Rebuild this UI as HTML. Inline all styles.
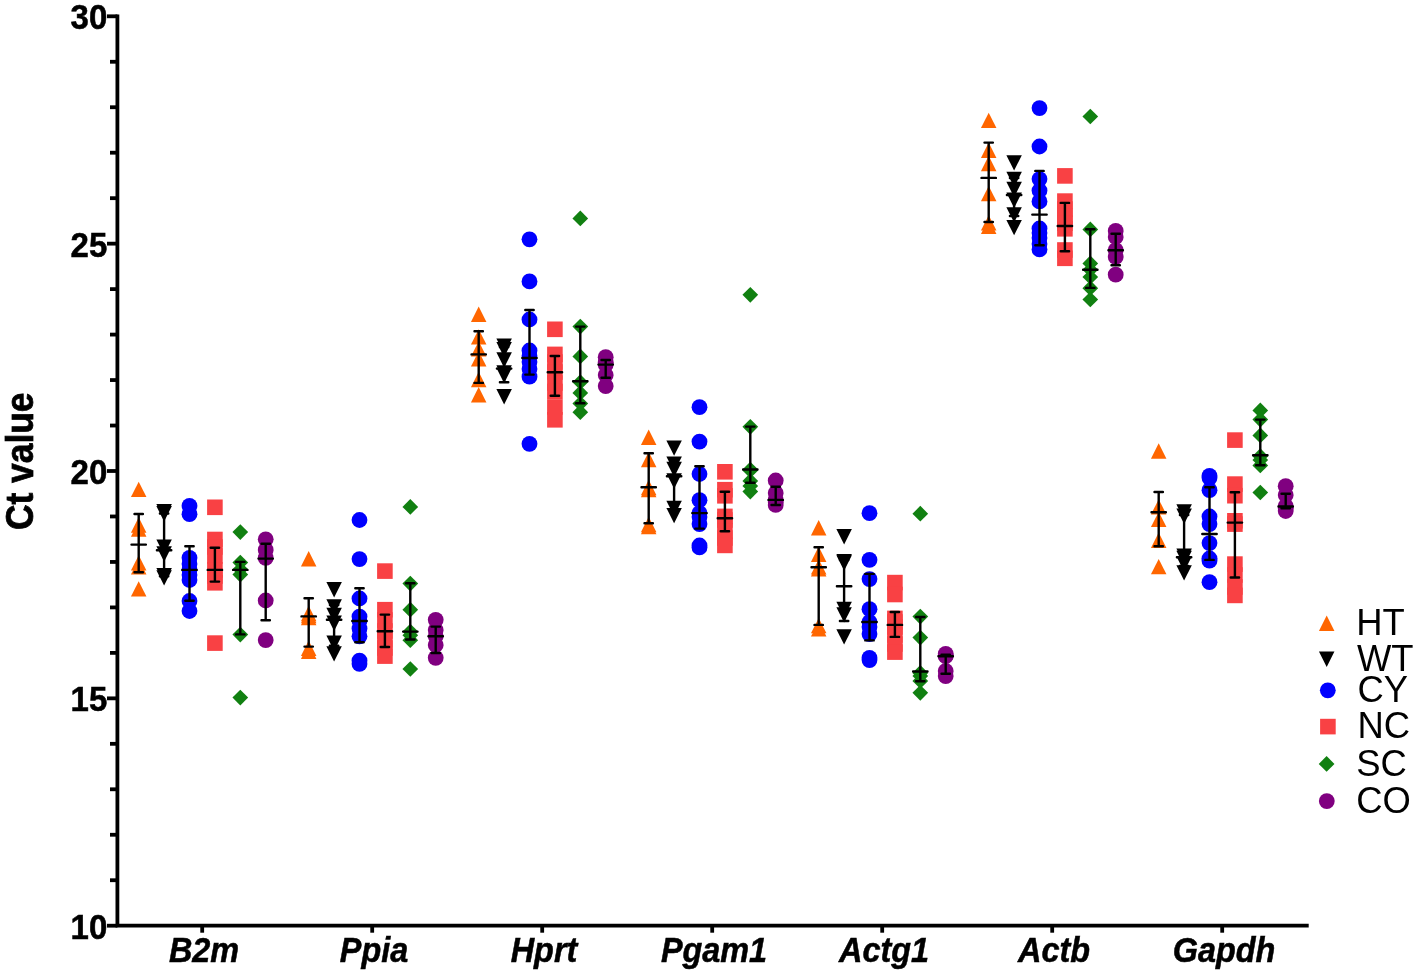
<!DOCTYPE html>
<html lang="en"><head><meta charset="utf-8"><title>Ct value plot</title>
<style>html,body{margin:0;padding:0;background:#fff}svg{display:block}text{font-family:"Liberation Sans",sans-serif;fill:#000}.yt{font-weight:bold;font-size:33px;text-anchor:end;stroke:#000;stroke-width:.5px}.xt{font-weight:bold;font-style:italic;font-size:32.4px;text-anchor:middle;stroke:#000;stroke-width:.5px}.lg{font-size:36.4px}.yl{font-weight:bold;font-size:35.4px;text-anchor:middle;stroke:#000;stroke-width:.7px}</style></head><body>
<svg width="1416" height="976" viewBox="0 0 1416 976">
<rect width="1416" height="976" fill="#fff"/>
<g stroke="#000" stroke-width="3.8" fill="none">
<path d="M117.4 14.4 V925.7 H1308.7"/>
<path d="M107 925.7 H117.4"/>
<path d="M110 880.23 H117.4"/>
<path d="M110 834.76 H117.4"/>
<path d="M110 789.29 H117.4"/>
<path d="M110 743.82 H117.4"/>
<path d="M107 698.35 H117.4"/>
<path d="M110 652.88 H117.4"/>
<path d="M110 607.41 H117.4"/>
<path d="M110 561.94 H117.4"/>
<path d="M110 516.47 H117.4"/>
<path d="M107 471 H117.4"/>
<path d="M110 425.53 H117.4"/>
<path d="M110 380.06 H117.4"/>
<path d="M110 334.59 H117.4"/>
<path d="M110 289.12 H117.4"/>
<path d="M107 243.65 H117.4"/>
<path d="M110 198.18 H117.4"/>
<path d="M110 152.71 H117.4"/>
<path d="M110 107.24 H117.4"/>
<path d="M110 61.77 H117.4"/>
<path d="M107 16.3 H117.4"/>
<path d="M202.2 925.7 V932.7"/>
<path d="M372.2 925.7 V932.7"/>
<path d="M542.2 925.7 V932.7"/>
<path d="M712.2 925.7 V932.7"/>
<path d="M882.2 925.7 V932.7"/>
<path d="M1052.2 925.7 V932.7"/>
<path d="M1222.2 925.7 V932.7"/>
</g>
<text class="yt" transform="translate(107.3 938.8) scale(1 1.04)">10</text>
<text class="yt" transform="translate(107.3 711.45) scale(1 1.04)">15</text>
<text class="yt" transform="translate(107.3 484.1) scale(1 1.04)">20</text>
<text class="yt" transform="translate(107.3 256.75) scale(1 1.04)">25</text>
<text class="yt" transform="translate(107.3 29.4) scale(1 1.04)">30</text>
<text class="xt" transform="translate(204 962.2) scale(1 1.07)">B2m</text>
<text class="xt" transform="translate(374 962.2) scale(1 1.07)">Ppia</text>
<text class="xt" transform="translate(544 962.2) scale(1 1.07)">Hprt</text>
<text class="xt" transform="translate(714 962.2) scale(1 1.07)">Pgam1</text>
<text class="xt" transform="translate(884 962.2) scale(1 1.07)">Actg1</text>
<text class="xt" transform="translate(1054 962.2) scale(1 1.07)">Actb</text>
<text class="xt" transform="translate(1224 962.2) scale(1 1.07)">Gapdh</text>
<text class="yl" transform="translate(33.0 461.3) rotate(-90) scale(1 1.11)">Ct value</text>
<g>
<polygon points="138.7,481.7 146.45,497.1 130.95,497.1" fill="#ff6600"/>
<polygon points="138.7,517.3 146.45,532.7 130.95,532.7" fill="#ff6600"/>
<polygon points="138.7,521.3 146.45,536.7 130.95,536.7" fill="#ff6600"/>
<polygon points="138.7,555.2 146.45,570.6 130.95,570.6" fill="#ff6600"/>
<polygon points="138.7,559.2 146.45,574.6 130.95,574.6" fill="#ff6600"/>
<polygon points="138.7,581.2 146.45,596.6 130.95,596.6" fill="#ff6600"/>
<path d="M138.7 514V572.3 M134.5 514H142.9 M134.5 572.3H142.9 M131.5 544.6H145.9" stroke="#000" stroke-width="2.4" stroke-linecap="round" fill="none"/>
</g>
<g>
<polygon points="156.35,504.1 171.85,504.1 164.1,519.5" fill="#000000"/>
<polygon points="156.35,506.1 171.85,506.1 164.1,521.5" fill="#000000"/>
<polygon points="156.35,539.4 171.85,539.4 164.1,554.8" fill="#000000"/>
<polygon points="156.35,546.3 171.85,546.3 164.1,561.7" fill="#000000"/>
<polygon points="156.35,568.1 171.85,568.1 164.1,583.5" fill="#000000"/>
<polygon points="156.35,570.2 171.85,570.2 164.1,585.6" fill="#000000"/>
<path d="M164.1 513.5V576.3 M159.9 513.5H168.3 M159.9 576.3H168.3 M156.9 550.2H171.3" stroke="#000" stroke-width="2.4" stroke-linecap="round" fill="none"/>
</g>
<g>
<circle cx="189.5" cy="505.8" r="7.9" fill="#0000ff"/>
<circle cx="189.5" cy="514.2" r="7.9" fill="#0000ff"/>
<circle cx="189.5" cy="557.8" r="7.9" fill="#0000ff"/>
<circle cx="189.5" cy="564" r="7.9" fill="#0000ff"/>
<circle cx="189.5" cy="569.9" r="7.9" fill="#0000ff"/>
<circle cx="189.5" cy="575" r="7.9" fill="#0000ff"/>
<circle cx="189.5" cy="580" r="7.9" fill="#0000ff"/>
<circle cx="189.5" cy="601" r="7.9" fill="#0000ff"/>
<circle cx="189.5" cy="611" r="7.9" fill="#0000ff"/>
<path d="M189.5 546.2V600.8 M185.3 546.2H193.7 M185.3 600.8H193.7 M182.3 569.9H196.7" stroke="#000" stroke-width="2.4" stroke-linecap="round" fill="none"/>
</g>
<g>
<rect x="207.1" y="499.5" width="15.6" height="15.6" fill="#f94144"/>
<rect x="207.1" y="531.7" width="15.6" height="15.6" fill="#f94144"/>
<rect x="207.1" y="539.2" width="15.6" height="15.6" fill="#f94144"/>
<rect x="207.1" y="548.2" width="15.6" height="15.6" fill="#f94144"/>
<rect x="207.1" y="562.1" width="15.6" height="15.6" fill="#f94144"/>
<rect x="207.1" y="568.2" width="15.6" height="15.6" fill="#f94144"/>
<rect x="207.1" y="575" width="15.6" height="15.6" fill="#f94144"/>
<rect x="207.1" y="635.3" width="15.6" height="15.6" fill="#f94144"/>
<path d="M214.9 547.7V581.6 M210.7 547.7H219.1 M210.7 581.6H219.1 M207.7 569.9H222.1" stroke="#000" stroke-width="2.4" stroke-linecap="round" fill="none"/>
</g>
<g>
<polygon points="240.3,524.25 248.15,532.1 240.3,539.95 232.45,532.1" fill="#118011"/>
<polygon points="240.3,554.75 248.15,562.6 240.3,570.45 232.45,562.6" fill="#118011"/>
<polygon points="240.3,561.45 248.15,569.3 240.3,577.15 232.45,569.3" fill="#118011"/>
<polygon points="240.3,566.75 248.15,574.6 240.3,582.45 232.45,574.6" fill="#118011"/>
<polygon points="240.3,626.75 248.15,634.6 240.3,642.45 232.45,634.6" fill="#118011"/>
<polygon points="240.3,689.75 248.15,697.6 240.3,705.45 232.45,697.6" fill="#118011"/>
<path d="M240.3 561.9V634.4 M236.1 561.9H244.5 M236.1 634.4H244.5 M233.1 569.9H247.5" stroke="#000" stroke-width="2.4" stroke-linecap="round" fill="none"/>
</g>
<g>
<circle cx="265.7" cy="539.3" r="7.9" fill="#800080"/>
<circle cx="265.7" cy="549.9" r="7.9" fill="#800080"/>
<circle cx="265.7" cy="557.9" r="7.9" fill="#800080"/>
<circle cx="265.7" cy="600.5" r="7.9" fill="#800080"/>
<circle cx="265.7" cy="640.1" r="7.9" fill="#800080"/>
<path d="M265.7 543.7V620.2 M261.5 543.7H269.9 M261.5 620.2H269.9 M258.5 558.6H272.9" stroke="#000" stroke-width="2.4" stroke-linecap="round" fill="none"/>
</g>
<g>
<polygon points="308.7,551 316.45,566.4 300.95,566.4" fill="#ff6600"/>
<polygon points="308.7,605.8 316.45,621.2 300.95,621.2" fill="#ff6600"/>
<polygon points="308.7,607.8 316.45,623.2 300.95,623.2" fill="#ff6600"/>
<polygon points="308.7,609.8 316.45,625.2 300.95,625.2" fill="#ff6600"/>
<polygon points="308.7,640.5 316.45,655.9 300.95,655.9" fill="#ff6600"/>
<polygon points="308.7,643.6 316.45,659 300.95,659" fill="#ff6600"/>
<path d="M308.7 598.2V646.6 M304.5 598.2H312.9 M304.5 646.6H312.9 M301.5 616.4H315.9" stroke="#000" stroke-width="2.4" stroke-linecap="round" fill="none"/>
</g>
<g>
<polygon points="326.35,582 341.85,582 334.1,597.4" fill="#000000"/>
<polygon points="326.35,599.3 341.85,599.3 334.1,614.7" fill="#000000"/>
<polygon points="326.35,607.8 341.85,607.8 334.1,623.2" fill="#000000"/>
<polygon points="326.35,615.5 341.85,615.5 334.1,630.9" fill="#000000"/>
<polygon points="326.35,635.5 341.85,635.5 334.1,650.9" fill="#000000"/>
<polygon points="326.35,646.2 341.85,646.2 334.1,661.6" fill="#000000"/>
<path d="M334.1 605V645.7 M329.9 605H338.3 M329.9 645.7H338.3 M326.9 619.8H341.3" stroke="#000" stroke-width="2.4" stroke-linecap="round" fill="none"/>
</g>
<g>
<circle cx="359.5" cy="520" r="7.9" fill="#0000ff"/>
<circle cx="359.5" cy="559.1" r="7.9" fill="#0000ff"/>
<circle cx="359.5" cy="598.5" r="7.9" fill="#0000ff"/>
<circle cx="359.5" cy="616.6" r="7.9" fill="#0000ff"/>
<circle cx="359.5" cy="621" r="7.9" fill="#0000ff"/>
<circle cx="359.5" cy="628.6" r="7.9" fill="#0000ff"/>
<circle cx="359.5" cy="636.3" r="7.9" fill="#0000ff"/>
<circle cx="359.5" cy="660.6" r="7.9" fill="#0000ff"/>
<circle cx="359.5" cy="663.9" r="7.9" fill="#0000ff"/>
<path d="M359.5 588.3V642.3 M355.3 588.3H363.7 M355.3 642.3H363.7 M352.3 621H366.7" stroke="#000" stroke-width="2.4" stroke-linecap="round" fill="none"/>
</g>
<g>
<rect x="377.1" y="563.3" width="15.6" height="15.6" fill="#f94144"/>
<rect x="377.1" y="601.9" width="15.6" height="15.6" fill="#f94144"/>
<rect x="377.1" y="612.2" width="15.6" height="15.6" fill="#f94144"/>
<rect x="377.1" y="623.2" width="15.6" height="15.6" fill="#f94144"/>
<rect x="377.1" y="632.2" width="15.6" height="15.6" fill="#f94144"/>
<rect x="377.1" y="640.2" width="15.6" height="15.6" fill="#f94144"/>
<rect x="377.1" y="648.3" width="15.6" height="15.6" fill="#f94144"/>
<path d="M384.9 614.6V647 M380.7 614.6H389.1 M380.7 647H389.1 M377.7 631.3H392.1" stroke="#000" stroke-width="2.4" stroke-linecap="round" fill="none"/>
</g>
<g>
<polygon points="410.3,499.05 418.15,506.9 410.3,514.75 402.45,506.9" fill="#118011"/>
<polygon points="410.3,575.75 418.15,583.6 410.3,591.45 402.45,583.6" fill="#118011"/>
<polygon points="410.3,601.85 418.15,609.7 410.3,617.55 402.45,609.7" fill="#118011"/>
<polygon points="410.3,623.75 418.15,631.6 410.3,639.45 402.45,631.6" fill="#118011"/>
<polygon points="410.3,627.45 418.15,635.3 410.3,643.15 402.45,635.3" fill="#118011"/>
<polygon points="410.3,632.35 418.15,640.2 410.3,648.05 402.45,640.2" fill="#118011"/>
<polygon points="410.3,661.15 418.15,669 410.3,676.85 402.45,669" fill="#118011"/>
<path d="M410.3 583.3V639.5 M406.1 583.3H414.5 M406.1 639.5H414.5 M403.1 631.6H417.5" stroke="#000" stroke-width="2.4" stroke-linecap="round" fill="none"/>
</g>
<g>
<circle cx="435.7" cy="619.8" r="7.9" fill="#800080"/>
<circle cx="435.7" cy="630" r="7.9" fill="#800080"/>
<circle cx="435.7" cy="636.3" r="7.9" fill="#800080"/>
<circle cx="435.7" cy="645" r="7.9" fill="#800080"/>
<circle cx="435.7" cy="657.8" r="7.9" fill="#800080"/>
<path d="M435.7 626.6V653 M431.5 626.6H439.9 M431.5 653H439.9 M428.5 636.3H442.9" stroke="#000" stroke-width="2.4" stroke-linecap="round" fill="none"/>
</g>
<g>
<polygon points="478.7,306.6 486.45,322 470.95,322" fill="#ff6600"/>
<polygon points="478.7,329.2 486.45,344.6 470.95,344.6" fill="#ff6600"/>
<polygon points="478.7,341.2 486.45,356.6 470.95,356.6" fill="#ff6600"/>
<polygon points="478.7,351.2 486.45,366.6 470.95,366.6" fill="#ff6600"/>
<polygon points="478.7,371.8 486.45,387.2 470.95,387.2" fill="#ff6600"/>
<polygon points="478.7,387 486.45,402.4 470.95,402.4" fill="#ff6600"/>
<path d="M478.7 331.3V382.9 M474.5 331.3H482.9 M474.5 382.9H482.9 M471.5 354.4H485.9" stroke="#000" stroke-width="2.4" stroke-linecap="round" fill="none"/>
</g>
<g>
<polygon points="496.35,338.5 511.85,338.5 504.1,353.9" fill="#000000"/>
<polygon points="496.35,341.9 511.85,341.9 504.1,357.3" fill="#000000"/>
<polygon points="496.35,352.3 511.85,352.3 504.1,367.7" fill="#000000"/>
<polygon points="496.35,365.2 511.85,365.2 504.1,380.6" fill="#000000"/>
<polygon points="496.35,367.8 511.85,367.8 504.1,383.2" fill="#000000"/>
<polygon points="496.35,389 511.85,389 504.1,404.4" fill="#000000"/>
<path d="M504.1 347V382.3 M499.9 347H508.3 M499.9 382.3H508.3 M496.9 368.6H511.3" stroke="#000" stroke-width="2.4" stroke-linecap="round" fill="none"/>
</g>
<g>
<circle cx="529.5" cy="239.3" r="7.9" fill="#0000ff"/>
<circle cx="529.5" cy="281.4" r="7.9" fill="#0000ff"/>
<circle cx="529.5" cy="319.5" r="7.9" fill="#0000ff"/>
<circle cx="529.5" cy="350.5" r="7.9" fill="#0000ff"/>
<circle cx="529.5" cy="356" r="7.9" fill="#0000ff"/>
<circle cx="529.5" cy="362" r="7.9" fill="#0000ff"/>
<circle cx="529.5" cy="369" r="7.9" fill="#0000ff"/>
<circle cx="529.5" cy="376.7" r="7.9" fill="#0000ff"/>
<circle cx="529.5" cy="443.8" r="7.9" fill="#0000ff"/>
<path d="M529.5 310V374.6 M525.3 310H533.7 M525.3 374.6H533.7 M522.3 358H536.7" stroke="#000" stroke-width="2.4" stroke-linecap="round" fill="none"/>
</g>
<g>
<rect x="547.1" y="321.5" width="15.6" height="15.6" fill="#f94144"/>
<rect x="547.1" y="346.6" width="15.6" height="15.6" fill="#f94144"/>
<rect x="547.1" y="354.2" width="15.6" height="15.6" fill="#f94144"/>
<rect x="547.1" y="364.2" width="15.6" height="15.6" fill="#f94144"/>
<rect x="547.1" y="375.2" width="15.6" height="15.6" fill="#f94144"/>
<rect x="547.1" y="383.7" width="15.6" height="15.6" fill="#f94144"/>
<rect x="547.1" y="399.2" width="15.6" height="15.6" fill="#f94144"/>
<rect x="547.1" y="412" width="15.6" height="15.6" fill="#f94144"/>
<path d="M554.9 356V395.7 M550.7 356H559.1 M550.7 395.7H559.1 M547.7 372.3H562.1" stroke="#000" stroke-width="2.4" stroke-linecap="round" fill="none"/>
</g>
<g>
<polygon points="580.3,210.55 588.15,218.4 580.3,226.25 572.45,218.4" fill="#118011"/>
<polygon points="580.3,318.75 588.15,326.6 580.3,334.45 572.45,326.6" fill="#118011"/>
<polygon points="580.3,348.55 588.15,356.4 580.3,364.25 572.45,356.4" fill="#118011"/>
<polygon points="580.3,374.35 588.15,382.2 580.3,390.05 572.45,382.2" fill="#118011"/>
<polygon points="580.3,385.05 588.15,392.9 580.3,400.75 572.45,392.9" fill="#118011"/>
<polygon points="580.3,395.65 588.15,403.5 580.3,411.35 572.45,403.5" fill="#118011"/>
<polygon points="580.3,404.35 588.15,412.2 580.3,420.05 572.45,412.2" fill="#118011"/>
<path d="M580.3 326.6V403.2 M576.1 326.6H584.5 M576.1 403.2H584.5 M573.1 381.3H587.5" stroke="#000" stroke-width="2.4" stroke-linecap="round" fill="none"/>
</g>
<g>
<circle cx="605.7" cy="357.2" r="7.9" fill="#800080"/>
<circle cx="605.7" cy="362.6" r="7.9" fill="#800080"/>
<circle cx="605.7" cy="364.6" r="7.9" fill="#800080"/>
<circle cx="605.7" cy="375" r="7.9" fill="#800080"/>
<circle cx="605.7" cy="386.1" r="7.9" fill="#800080"/>
<path d="M605.7 360V377.7 M601.5 360H609.9 M601.5 377.7H609.9 M598.5 364.6H612.9" stroke="#000" stroke-width="2.4" stroke-linecap="round" fill="none"/>
</g>
<g>
<polygon points="648.7,429.5 656.45,444.9 640.95,444.9" fill="#ff6600"/>
<polygon points="648.7,451.8 656.45,467.2 640.95,467.2" fill="#ff6600"/>
<polygon points="648.7,479.8 656.45,495.2 640.95,495.2" fill="#ff6600"/>
<polygon points="648.7,481.8 656.45,497.2 640.95,497.2" fill="#ff6600"/>
<polygon points="648.7,516.8 656.45,532.2 640.95,532.2" fill="#ff6600"/>
<polygon points="648.7,518.8 656.45,534.2 640.95,534.2" fill="#ff6600"/>
<path d="M648.7 453.3V523.3 M644.5 453.3H652.9 M644.5 523.3H652.9 M641.5 487.3H655.9" stroke="#000" stroke-width="2.4" stroke-linecap="round" fill="none"/>
</g>
<g>
<polygon points="666.35,440.4 681.85,440.4 674.1,455.8" fill="#000000"/>
<polygon points="666.35,456.5 681.85,456.5 674.1,471.9" fill="#000000"/>
<polygon points="666.35,461.8 681.85,461.8 674.1,477.2" fill="#000000"/>
<polygon points="666.35,473.3 681.85,473.3 674.1,488.7" fill="#000000"/>
<polygon points="666.35,500.7 681.85,500.7 674.1,516.1" fill="#000000"/>
<polygon points="666.35,507.9 681.85,507.9 674.1,523.3" fill="#000000"/>
<path d="M674.1 463V510 M669.9 463H678.3 M669.9 510H678.3 M666.9 476.3H681.3" stroke="#000" stroke-width="2.4" stroke-linecap="round" fill="none"/>
</g>
<g>
<circle cx="699.5" cy="407.2" r="7.9" fill="#0000ff"/>
<circle cx="699.5" cy="441.6" r="7.9" fill="#0000ff"/>
<circle cx="699.5" cy="474" r="7.9" fill="#0000ff"/>
<circle cx="699.5" cy="500.2" r="7.9" fill="#0000ff"/>
<circle cx="699.5" cy="513" r="7.9" fill="#0000ff"/>
<circle cx="699.5" cy="517" r="7.9" fill="#0000ff"/>
<circle cx="699.5" cy="524.1" r="7.9" fill="#0000ff"/>
<circle cx="699.5" cy="545.5" r="7.9" fill="#0000ff"/>
<circle cx="699.5" cy="547.4" r="7.9" fill="#0000ff"/>
<path d="M699.5 466.2V528.6 M695.3 466.2H703.7 M695.3 528.6H703.7 M692.3 513.1H706.7" stroke="#000" stroke-width="2.4" stroke-linecap="round" fill="none"/>
</g>
<g>
<rect x="717.1" y="464" width="15.6" height="15.6" fill="#f94144"/>
<rect x="717.1" y="481.9" width="15.6" height="15.6" fill="#f94144"/>
<rect x="717.1" y="488" width="15.6" height="15.6" fill="#f94144"/>
<rect x="717.1" y="508.6" width="15.6" height="15.6" fill="#f94144"/>
<rect x="717.1" y="512.2" width="15.6" height="15.6" fill="#f94144"/>
<rect x="717.1" y="523.2" width="15.6" height="15.6" fill="#f94144"/>
<rect x="717.1" y="530.2" width="15.6" height="15.6" fill="#f94144"/>
<rect x="717.1" y="537.6" width="15.6" height="15.6" fill="#f94144"/>
<path d="M724.9 491.7V531.3 M720.7 491.7H729.1 M720.7 531.3H729.1 M717.7 518.3H732.1" stroke="#000" stroke-width="2.4" stroke-linecap="round" fill="none"/>
</g>
<g>
<polygon points="750.3,286.95 758.15,294.8 750.3,302.65 742.45,294.8" fill="#118011"/>
<polygon points="750.3,418.95 758.15,426.8 750.3,434.65 742.45,426.8" fill="#118011"/>
<polygon points="750.3,461.65 758.15,469.5 750.3,477.35 742.45,469.5" fill="#118011"/>
<polygon points="750.3,462.65 758.15,470.5 750.3,478.35 742.45,470.5" fill="#118011"/>
<polygon points="750.3,473.05 758.15,480.9 750.3,488.75 742.45,480.9" fill="#118011"/>
<polygon points="750.3,478.15 758.15,486 750.3,493.85 742.45,486" fill="#118011"/>
<polygon points="750.3,483.75 758.15,491.6 750.3,499.45 742.45,491.6" fill="#118011"/>
<path d="M750.3 426.6V482.7 M746.1 426.6H754.5 M746.1 482.7H754.5 M743.1 469.5H757.5" stroke="#000" stroke-width="2.4" stroke-linecap="round" fill="none"/>
</g>
<g>
<circle cx="775.7" cy="480.5" r="7.9" fill="#800080"/>
<circle cx="775.7" cy="493" r="7.9" fill="#800080"/>
<circle cx="775.7" cy="499.9" r="7.9" fill="#800080"/>
<circle cx="775.7" cy="502" r="7.9" fill="#800080"/>
<circle cx="775.7" cy="504.9" r="7.9" fill="#800080"/>
<path d="M775.7 486.8V505 M771.5 486.8H779.9 M771.5 505H779.9 M768.5 499.9H782.9" stroke="#000" stroke-width="2.4" stroke-linecap="round" fill="none"/>
</g>
<g>
<polygon points="818.7,520 826.45,535.4 810.95,535.4" fill="#ff6600"/>
<polygon points="818.7,546.5 826.45,561.9 810.95,561.9" fill="#ff6600"/>
<polygon points="818.7,559.2 826.45,574.6 810.95,574.6" fill="#ff6600"/>
<polygon points="818.7,561.2 826.45,576.6 810.95,576.6" fill="#ff6600"/>
<polygon points="818.7,617.9 826.45,633.3 810.95,633.3" fill="#ff6600"/>
<polygon points="818.7,621.2 826.45,636.6 810.95,636.6" fill="#ff6600"/>
<path d="M818.7 547.3V624.9 M814.5 547.3H822.9 M814.5 624.9H822.9 M811.5 567.3H825.9" stroke="#000" stroke-width="2.4" stroke-linecap="round" fill="none"/>
</g>
<g>
<polygon points="836.35,529.1 851.85,529.1 844.1,544.5" fill="#000000"/>
<polygon points="836.35,554 851.85,554 844.1,569.4" fill="#000000"/>
<polygon points="836.35,555.3 851.85,555.3 844.1,570.7" fill="#000000"/>
<polygon points="836.35,601.8 851.85,601.8 844.1,617.2" fill="#000000"/>
<polygon points="836.35,607.2 851.85,607.2 844.1,622.6" fill="#000000"/>
<polygon points="836.35,629.2 851.85,629.2 844.1,644.6" fill="#000000"/>
<path d="M844.1 560V621 M839.9 560H848.3 M839.9 621H848.3 M836.9 586.3H851.3" stroke="#000" stroke-width="2.4" stroke-linecap="round" fill="none"/>
</g>
<g>
<circle cx="869.5" cy="513.2" r="7.9" fill="#0000ff"/>
<circle cx="869.5" cy="559.8" r="7.9" fill="#0000ff"/>
<circle cx="869.5" cy="579.1" r="7.9" fill="#0000ff"/>
<circle cx="869.5" cy="609.2" r="7.9" fill="#0000ff"/>
<circle cx="869.5" cy="622" r="7.9" fill="#0000ff"/>
<circle cx="869.5" cy="627" r="7.9" fill="#0000ff"/>
<circle cx="869.5" cy="634.1" r="7.9" fill="#0000ff"/>
<circle cx="869.5" cy="657.8" r="7.9" fill="#0000ff"/>
<circle cx="869.5" cy="660.1" r="7.9" fill="#0000ff"/>
<path d="M869.5 573.9V640.4 M865.3 573.9H873.7 M865.3 640.4H873.7 M862.3 622H876.7" stroke="#000" stroke-width="2.4" stroke-linecap="round" fill="none"/>
</g>
<g>
<rect x="887.1" y="574.8" width="15.6" height="15.6" fill="#f94144"/>
<rect x="887.1" y="586.7" width="15.6" height="15.6" fill="#f94144"/>
<rect x="887.1" y="610.6" width="15.6" height="15.6" fill="#f94144"/>
<rect x="887.1" y="614.2" width="15.6" height="15.6" fill="#f94144"/>
<rect x="887.1" y="619.2" width="15.6" height="15.6" fill="#f94144"/>
<rect x="887.1" y="627.2" width="15.6" height="15.6" fill="#f94144"/>
<rect x="887.1" y="636.2" width="15.6" height="15.6" fill="#f94144"/>
<rect x="887.1" y="644.3" width="15.6" height="15.6" fill="#f94144"/>
<path d="M894.9 612V636.9 M890.7 612H899.1 M890.7 636.9H899.1 M887.7 624.9H902.1" stroke="#000" stroke-width="2.4" stroke-linecap="round" fill="none"/>
</g>
<g>
<polygon points="920.3,505.85 928.15,513.7 920.3,521.55 912.45,513.7" fill="#118011"/>
<polygon points="920.3,608.75 928.15,616.6 920.3,624.45 912.45,616.6" fill="#118011"/>
<polygon points="920.3,629.75 928.15,637.6 920.3,645.45 912.45,637.6" fill="#118011"/>
<polygon points="920.3,665.05 928.15,672.9 920.3,680.75 912.45,672.9" fill="#118011"/>
<polygon points="920.3,668.15 928.15,676 920.3,683.85 912.45,676" fill="#118011"/>
<polygon points="920.3,673.15 928.15,681 920.3,688.85 912.45,681" fill="#118011"/>
<polygon points="920.3,684.95 928.15,692.8 920.3,700.65 912.45,692.8" fill="#118011"/>
<path d="M920.3 617V681.3 M916.1 617H924.5 M916.1 681.3H924.5 M913.1 671.5H927.5" stroke="#000" stroke-width="2.4" stroke-linecap="round" fill="none"/>
</g>
<g>
<circle cx="945.7" cy="653.8" r="7.9" fill="#800080"/>
<circle cx="945.7" cy="655.4" r="7.9" fill="#800080"/>
<circle cx="945.7" cy="656.2" r="7.9" fill="#800080"/>
<circle cx="945.7" cy="671" r="7.9" fill="#800080"/>
<circle cx="945.7" cy="676.1" r="7.9" fill="#800080"/>
<path d="M945.7 654.6V673.7 M941.5 654.6H949.9 M941.5 673.7H949.9 M938.5 656.2H952.9" stroke="#000" stroke-width="2.4" stroke-linecap="round" fill="none"/>
</g>
<g>
<polygon points="988.7,112.7 996.45,128.1 980.95,128.1" fill="#ff6600"/>
<polygon points="988.7,142.5 996.45,157.9 980.95,157.9" fill="#ff6600"/>
<polygon points="988.7,155.8 996.45,171.2 980.95,171.2" fill="#ff6600"/>
<polygon points="988.7,185.9 996.45,201.3 980.95,201.3" fill="#ff6600"/>
<polygon points="988.7,215.2 996.45,230.6 980.95,230.6" fill="#ff6600"/>
<polygon points="988.7,218.5 996.45,233.9 980.95,233.9" fill="#ff6600"/>
<path d="M988.7 142.6V222 M984.5 142.6H992.9 M984.5 222H992.9 M981.5 177.9H995.9" stroke="#000" stroke-width="2.4" stroke-linecap="round" fill="none"/>
</g>
<g>
<polygon points="1006.35,155.2 1021.85,155.2 1014.1,170.6" fill="#000000"/>
<polygon points="1006.35,171.8 1021.85,171.8 1014.1,187.2" fill="#000000"/>
<polygon points="1006.35,181.8 1021.85,181.8 1014.1,197.2" fill="#000000"/>
<polygon points="1006.35,192.6 1021.85,192.6 1014.1,208" fill="#000000"/>
<polygon points="1006.35,207.2 1021.85,207.2 1014.1,222.6" fill="#000000"/>
<polygon points="1006.35,219.9 1021.85,219.9 1014.1,235.3" fill="#000000"/>
<path d="M1014.1 178V216 M1009.9 178H1018.3 M1009.9 216H1018.3 M1006.9 195H1021.3" stroke="#000" stroke-width="2.4" stroke-linecap="round" fill="none"/>
</g>
<g>
<circle cx="1039.5" cy="108.1" r="7.9" fill="#0000ff"/>
<circle cx="1039.5" cy="146.5" r="7.9" fill="#0000ff"/>
<circle cx="1039.5" cy="179.1" r="7.9" fill="#0000ff"/>
<circle cx="1039.5" cy="190.5" r="7.9" fill="#0000ff"/>
<circle cx="1039.5" cy="201.4" r="7.9" fill="#0000ff"/>
<circle cx="1039.5" cy="228.5" r="7.9" fill="#0000ff"/>
<circle cx="1039.5" cy="233" r="7.9" fill="#0000ff"/>
<circle cx="1039.5" cy="238" r="7.9" fill="#0000ff"/>
<circle cx="1039.5" cy="244" r="7.9" fill="#0000ff"/>
<circle cx="1039.5" cy="249.4" r="7.9" fill="#0000ff"/>
<path d="M1039.5 170.9V245.3 M1035.3 170.9H1043.7 M1035.3 245.3H1043.7 M1032.3 214.6H1046.7" stroke="#000" stroke-width="2.4" stroke-linecap="round" fill="none"/>
</g>
<g>
<rect x="1057.1" y="168.1" width="15.6" height="15.6" fill="#f94144"/>
<rect x="1057.1" y="193.3" width="15.6" height="15.6" fill="#f94144"/>
<rect x="1057.1" y="201.2" width="15.6" height="15.6" fill="#f94144"/>
<rect x="1057.1" y="208.2" width="15.6" height="15.6" fill="#f94144"/>
<rect x="1057.1" y="215.4" width="15.6" height="15.6" fill="#f94144"/>
<rect x="1057.1" y="221" width="15.6" height="15.6" fill="#f94144"/>
<rect x="1057.1" y="242.2" width="15.6" height="15.6" fill="#f94144"/>
<rect x="1057.1" y="250.5" width="15.6" height="15.6" fill="#f94144"/>
<path d="M1064.9 202.9V251.3 M1060.7 202.9H1069.1 M1060.7 251.3H1069.1 M1057.7 226H1072.1" stroke="#000" stroke-width="2.4" stroke-linecap="round" fill="none"/>
</g>
<g>
<polygon points="1090.3,108.65 1098.15,116.5 1090.3,124.35 1082.45,116.5" fill="#118011"/>
<polygon points="1090.3,221.55 1098.15,229.4 1090.3,237.25 1082.45,229.4" fill="#118011"/>
<polygon points="1090.3,255.55 1098.15,263.4 1090.3,271.25 1082.45,263.4" fill="#118011"/>
<polygon points="1090.3,261.85 1098.15,269.7 1090.3,277.55 1082.45,269.7" fill="#118011"/>
<polygon points="1090.3,269.15 1098.15,277 1090.3,284.85 1082.45,277" fill="#118011"/>
<polygon points="1090.3,280.35 1098.15,288.2 1090.3,296.05 1082.45,288.2" fill="#118011"/>
<polygon points="1090.3,291.65 1098.15,299.5 1090.3,307.35 1082.45,299.5" fill="#118011"/>
<path d="M1090.3 229.3V287.9 M1086.1 229.3H1094.5 M1086.1 287.9H1094.5 M1083.1 269.7H1097.5" stroke="#000" stroke-width="2.4" stroke-linecap="round" fill="none"/>
</g>
<g>
<circle cx="1115.7" cy="230.9" r="7.9" fill="#800080"/>
<circle cx="1115.7" cy="237" r="7.9" fill="#800080"/>
<circle cx="1115.7" cy="250.2" r="7.9" fill="#800080"/>
<circle cx="1115.7" cy="257" r="7.9" fill="#800080"/>
<circle cx="1115.7" cy="274.7" r="7.9" fill="#800080"/>
<path d="M1115.7 233.7V265.3 M1111.5 233.7H1119.9 M1111.5 265.3H1119.9 M1108.5 250.2H1122.9" stroke="#000" stroke-width="2.4" stroke-linecap="round" fill="none"/>
</g>
<g>
<polygon points="1158.7,443.3 1166.45,458.7 1150.95,458.7" fill="#ff6600"/>
<polygon points="1158.7,499.2 1166.45,514.6 1150.95,514.6" fill="#ff6600"/>
<polygon points="1158.7,511.7 1166.45,527.1 1150.95,527.1" fill="#ff6600"/>
<polygon points="1158.7,532.5 1166.45,547.9 1150.95,547.9" fill="#ff6600"/>
<polygon points="1158.7,558.9 1166.45,574.3 1150.95,574.3" fill="#ff6600"/>
<path d="M1158.7 492V546.2 M1154.5 492H1162.9 M1154.5 546.2H1162.9 M1151.5 512.2H1165.9" stroke="#000" stroke-width="2.4" stroke-linecap="round" fill="none"/>
</g>
<g>
<polygon points="1176.35,504.3 1191.85,504.3 1184.1,519.7" fill="#000000"/>
<polygon points="1176.35,508.5 1191.85,508.5 1184.1,523.9" fill="#000000"/>
<polygon points="1176.35,548.5 1191.85,548.5 1184.1,563.9" fill="#000000"/>
<polygon points="1176.35,550.7 1191.85,550.7 1184.1,566.1" fill="#000000"/>
<polygon points="1176.35,556.3 1191.85,556.3 1184.1,571.7" fill="#000000"/>
<polygon points="1176.35,565.2 1191.85,565.2 1184.1,580.6" fill="#000000"/>
<path d="M1184.1 515V566 M1179.9 515H1188.3 M1179.9 566H1188.3 M1176.9 557.3H1191.3" stroke="#000" stroke-width="2.4" stroke-linecap="round" fill="none"/>
</g>
<g>
<circle cx="1209.5" cy="475.8" r="7.9" fill="#0000ff"/>
<circle cx="1209.5" cy="477.8" r="7.9" fill="#0000ff"/>
<circle cx="1209.5" cy="490.2" r="7.9" fill="#0000ff"/>
<circle cx="1209.5" cy="516.5" r="7.9" fill="#0000ff"/>
<circle cx="1209.5" cy="524.1" r="7.9" fill="#0000ff"/>
<circle cx="1209.5" cy="543.1" r="7.9" fill="#0000ff"/>
<circle cx="1209.5" cy="558.5" r="7.9" fill="#0000ff"/>
<circle cx="1209.5" cy="560.7" r="7.9" fill="#0000ff"/>
<circle cx="1209.5" cy="582.2" r="7.9" fill="#0000ff"/>
<path d="M1209.5 487.3V559.9 M1205.3 487.3H1213.7 M1205.3 559.9H1213.7 M1202.3 534H1216.7" stroke="#000" stroke-width="2.4" stroke-linecap="round" fill="none"/>
</g>
<g>
<rect x="1227.1" y="432.3" width="15.6" height="15.6" fill="#f94144"/>
<rect x="1227.1" y="476.3" width="15.6" height="15.6" fill="#f94144"/>
<rect x="1227.1" y="487.9" width="15.6" height="15.6" fill="#f94144"/>
<rect x="1227.1" y="513" width="15.6" height="15.6" fill="#f94144"/>
<rect x="1227.1" y="516.3" width="15.6" height="15.6" fill="#f94144"/>
<rect x="1227.1" y="556.3" width="15.6" height="15.6" fill="#f94144"/>
<rect x="1227.1" y="567.2" width="15.6" height="15.6" fill="#f94144"/>
<rect x="1227.1" y="579.2" width="15.6" height="15.6" fill="#f94144"/>
<rect x="1227.1" y="587.6" width="15.6" height="15.6" fill="#f94144"/>
<path d="M1234.9 492.3V577.5 M1230.7 492.3H1239.1 M1230.7 577.5H1239.1 M1227.7 522.6H1242.1" stroke="#000" stroke-width="2.4" stroke-linecap="round" fill="none"/>
</g>
<g>
<polygon points="1260.3,402.55 1268.15,410.4 1260.3,418.25 1252.45,410.4" fill="#118011"/>
<polygon points="1260.3,411.75 1268.15,419.6 1260.3,427.45 1252.45,419.6" fill="#118011"/>
<polygon points="1260.3,427.55 1268.15,435.4 1260.3,443.25 1252.45,435.4" fill="#118011"/>
<polygon points="1260.3,448.35 1268.15,456.2 1260.3,464.05 1252.45,456.2" fill="#118011"/>
<polygon points="1260.3,452.15 1268.15,460 1260.3,467.85 1252.45,460" fill="#118011"/>
<polygon points="1260.3,457.55 1268.15,465.4 1260.3,473.25 1252.45,465.4" fill="#118011"/>
<polygon points="1260.3,484.65 1268.15,492.5 1260.3,500.35 1252.45,492.5" fill="#118011"/>
<path d="M1260.3 419.6V465.3 M1256.1 419.6H1264.5 M1256.1 465.3H1264.5 M1253.1 455.3H1267.5" stroke="#000" stroke-width="2.4" stroke-linecap="round" fill="none"/>
</g>
<g>
<circle cx="1285.7" cy="486.2" r="7.9" fill="#800080"/>
<circle cx="1285.7" cy="495" r="7.9" fill="#800080"/>
<circle cx="1285.7" cy="506" r="7.9" fill="#800080"/>
<circle cx="1285.7" cy="508" r="7.9" fill="#800080"/>
<circle cx="1285.7" cy="511" r="7.9" fill="#800080"/>
<path d="M1285.7 493.8V508.3 M1281.5 493.8H1289.9 M1281.5 508.3H1289.9 M1278.5 506.5H1292.9" stroke="#000" stroke-width="2.4" stroke-linecap="round" fill="none"/>
</g>
<polygon points="1326.7,615.6 1334.45,631 1318.95,631" fill="#ff6600"/>
<text class="lg" transform="translate(1356.2 634.7) scale(1 1.03)">HT</text>
<polygon points="1318.95,651.6 1334.45,651.6 1326.7,667" fill="#000000"/>
<text class="lg" transform="translate(1357 670.7) scale(1 1.03)">WT</text>
<circle cx="1327.8" cy="690.3" r="7.9" fill="#0000ff"/>
<text class="lg" transform="translate(1357.4 701.8) scale(1 1.03)">CY</text>
<rect x="1320.1" y="718.8" width="15.6" height="15.6" fill="#f94144"/>
<text class="lg" transform="translate(1357.4 738.3) scale(1 1.03)">NC</text>
<polygon points="1326.6,756.05 1334.45,763.9 1326.6,771.75 1318.75,763.9" fill="#118011"/>
<text class="lg" transform="translate(1356.3 776) scale(1 1.03)">SC</text>
<circle cx="1326.8" cy="801.1" r="7.9" fill="#800080"/>
<text class="lg" transform="translate(1356.2 813.3) scale(1 1.03)">CO</text>
</svg></body></html>
